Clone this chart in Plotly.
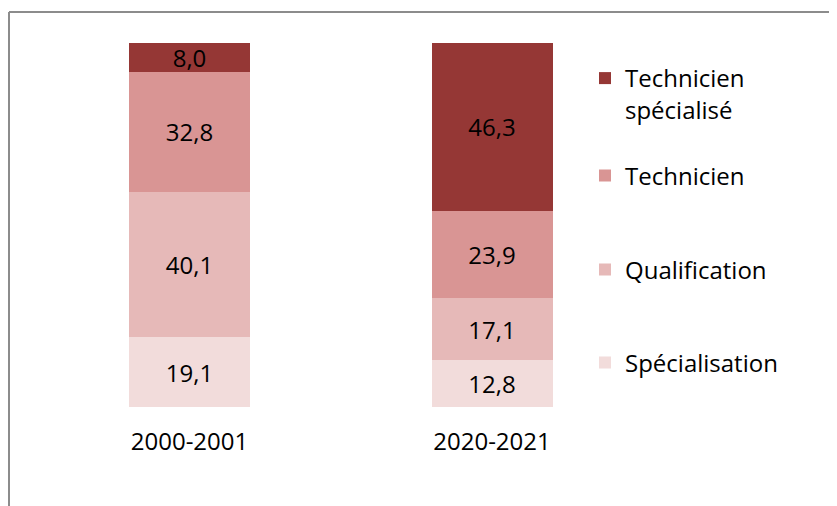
import plotly.graph_objects as go

periods = ["2000-2001", "2020-2021"]
series_names = ["Spécialisation", "Qualification", "Technicien", "Technicien<br>spécialisé"]
spec = [19.1, 12.8]
qual = [40.1, 17.1]
tech = [32.8, 23.9]
tech_spec = [8.0, 46.3]
colors = ["#F2DCDB", "#E6B9B8", "#D99594", "#953735"]

values = [spec, qual, tech, tech_spec]
legend_ids = ["legend4", "legend3", "legend2", "legend"]
FONT = "Open Sans"
FS = 24

fig = go.Figure()
xpos = [0, 1]
for name, vals, col, lg in zip(series_names, values, colors, legend_ids):
    fig.add_trace(go.Bar(
        x=xpos, y=vals, name=name, marker=dict(color=col, line=dict(width=0)),
        width=0.4, texttemplate="%{y:.1f}", textposition="inside",
        insidetextanchor="middle", constraintext="none",
        textfont=dict(family=FONT, size=FS, color="#000000"),
        legend=lg, hoverinfo="skip",
    ))

# page offset of the figure (body margin)
OFF = 8
W, H = 837, 506
# plot area in reference-page pixels: x 100..600, y 43..407
PX0, PX1, PY0, PY1 = 100, 600, 43, 407
L = PX0 - OFF
T = PY0 - OFF
R = W - (PX1 - OFF)
B = H - (PY1 - OFF)
pw, ph = PX1 - PX0, PY1 - PY0

def px_x(p):
    return (p - PX0) / pw

def px_y(p):
    return (PY1 - p) / ph

leg_common = dict(font=dict(family=FONT, size=FS, color="#000000"), bgcolor="rgba(0,0,0,0)",
                  xanchor="left", yanchor="middle", valign="top", itemwidth=30)
leg_y = [80, 176, 270, 363]
layout_legends = {}
for i, lid in enumerate(["legend", "legend2", "legend3", "legend4"]):
    d = dict(leg_common)
    d.update(x=px_x(585), y=px_y(leg_y[i] + (14 if i == 0 else 0)))
    layout_legends[lid] = d

fig.update_layout(
    width=W, height=H, barmode="stack", separators=", ",
    margin=dict(l=L, r=R, t=T, b=B, autoexpand=False),
    plot_bgcolor="white", paper_bgcolor="white",
    showlegend=True,
    xaxis=dict(range=[(PX0 - 189.5) / 302.5, (PX1 - 189.5) / 302.5], tickvals=xpos, ticktext=periods,
               showgrid=False, zeroline=False, showline=False, ticks="",
               tickfont=dict(family=FONT, size=FS, color="#000000"), ticklabelstandoff=18),
    yaxis=dict(range=[0, 100], visible=False),
    shapes=[
        dict(type="line", xref="paper", yref="paper", x0=px_x(9), x1=px_x(9), y0=px_y(530), y1=px_y(12),
             line=dict(color="#8C8C8C", width=2)),
        dict(type="line", xref="paper", yref="paper", x0=px_x(9), x1=px_x(860), y0=px_y(12), y1=px_y(12),
             line=dict(color="#8C8C8C", width=2)),
    ],
    **layout_legends,
)

fig.write_html("out.html")
